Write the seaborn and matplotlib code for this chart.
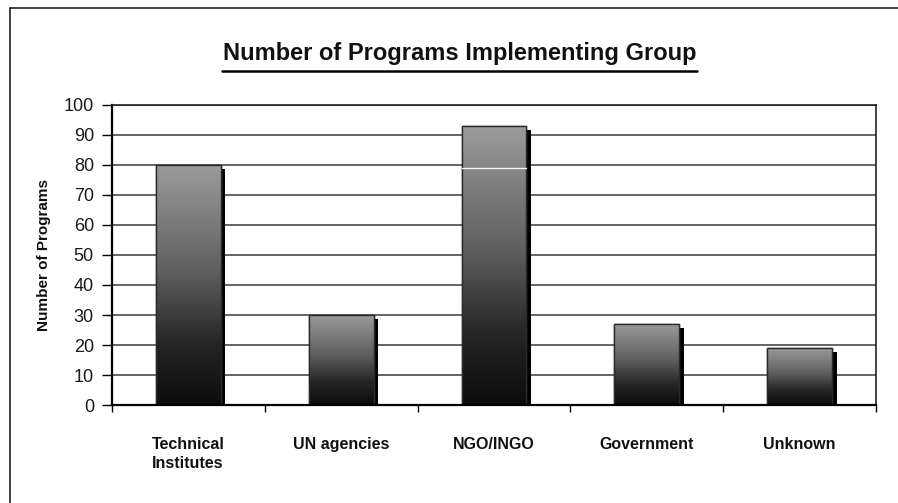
import numpy as np
import pandas as pd
import matplotlib
matplotlib.use("Agg")
import matplotlib.pyplot as plt
from matplotlib.colors import LinearSegmentedColormap
from matplotlib.patches import Rectangle
from matplotlib.lines import Line2D
import seaborn as sns

# Programs per implementing group
groups = ["Technical\nInstitutes", "UN agencies", "NGO/INGO", "Government", "Unknown"]
programs = [80, 30, 93, 27, 19]
y_ticks = [0, 10, 20, 30, 40, 50, 60, 70, 80, 90, 100]

df = pd.DataFrame({"group": groups, "programs": programs})

sns.set_theme(style="white")
plt.rcParams["font.family"] = ["Liberation Sans", "DejaVu Sans"]

fig = plt.figure(figsize=(8.98, 5.03), dpi=100)
ax = fig.add_axes([0.1247, 0.1948, 0.8508, 0.5965])

sns.barplot(data=df, x="group", y="programs", ax=ax, width=0.425,
            color="#777777", edgecolor="#2a2a2a", linewidth=1.0, zorder=3)

ax.set_ylim(0, 100)
ax.set_xlim(-0.5, len(groups) - 0.5)
ax.set_yticks(y_ticks)
ax.set_yticklabels([str(t) for t in y_ticks], fontsize=13, color="#1a1a1a")

# horizontal gridlines
for t in y_ticks[1:]:
    ax.axhline(t, color="#3a3a3a", lw=1.1, zorder=1)

# gray-to-black shading inside each bar, plus a drop shadow
cmap = LinearSegmentedColormap.from_list(
    "barshade", [(0.0, "#0c0c0c"), (0.25, "#252525"), (0.55, "#5e5e5e"), (1.0, "#9c9c9c")])
grad = np.linspace(0, 1, 256).reshape(-1, 1)
px_x = 0.03   # shadow offset in category units
px_y = 1.3    # shadow drop in value units
for p in ax.patches:
    x0, w, h = p.get_x(), p.get_width(), p.get_height()
    shadow = Rectangle((x0 + px_x, 0), w, h - px_y, facecolor="black",
                       edgecolor="none", zorder=2.5)
    ax.add_patch(shadow)
    im = ax.imshow(grad, cmap=cmap, aspect="auto", origin="lower",
                   extent=(x0, x0 + w, 0, h), zorder=3.2, interpolation="bicubic")
    im.set_clip_path(p)
    edge = Rectangle((x0, 0), w, h, facecolor="none", edgecolor="#2a2a2a",
                     lw=1.0, zorder=3.4)
    ax.add_patch(edge)

# thin light streak across the NGO/INGO bar
ngo = ax.patches[2]
ax.plot([ngo.get_x(), ngo.get_x() + ngo.get_width()], [79, 79],
        color="#f2f2f2", lw=1.0, zorder=3.5)

ax.set_xlim(-0.5, len(groups) - 0.5)
ax.set_ylim(0, 100)

# category ticks sit between groups
ax.set_xticks(np.arange(-0.5, len(groups), 1.0))
ax.set_xticklabels([])
ax.set_xticks(np.arange(len(groups)), minor=True)
ax.set_xticklabels(groups, minor=True, fontsize=11.5, fontweight="bold",
                   color="#111111", linespacing=1.35, va="top")
for lab in ax.get_xticklabels(minor=True):
    lab.set_multialignment("left")
ax.tick_params(axis="x", which="minor", length=0, pad=23)
ax.tick_params(axis="x", which="major", length=5, width=1.0, color="black",
               direction="out", bottom=True)
ax.tick_params(axis="y", length=7, width=1.0, color="black", direction="out",
               left=True, pad=6)

ax.set_xlabel("")
ax.set_ylabel("Number of Programs", fontsize=11, fontweight="bold",
              color="#111111", labelpad=9)

for side in ["left", "bottom"]:
    ax.spines[side].set_color("black")
    ax.spines[side].set_linewidth(1.6)
for side in ["top", "right"]:
    ax.spines[side].set_color("#222222")
    ax.spines[side].set_linewidth(1.2)
ax.spines["bottom"].set_zorder(5)

# underlined title
fig.text(0.5125, 0.893, "Number of Programs Implementing Group", ha="center",
         va="center", fontsize=17, fontweight="bold", color="#111111")
fig.add_artist(Line2D([222 / 898, 697 / 898], [1 - 70.5 / 503, 1 - 70.5 / 503],
                      color="black", lw=1.8))

# page frame lines
fig.add_artist(Line2D([10 / 898, 10 / 898], [0, 1 - 8 / 503], color="#222222", lw=1.2))
fig.add_artist(Line2D([10 / 898, 1], [1 - 8 / 503, 1 - 8 / 503], color="#222222", lw=1.2))

fig.savefig("out.png", dpi=100, facecolor="white")
